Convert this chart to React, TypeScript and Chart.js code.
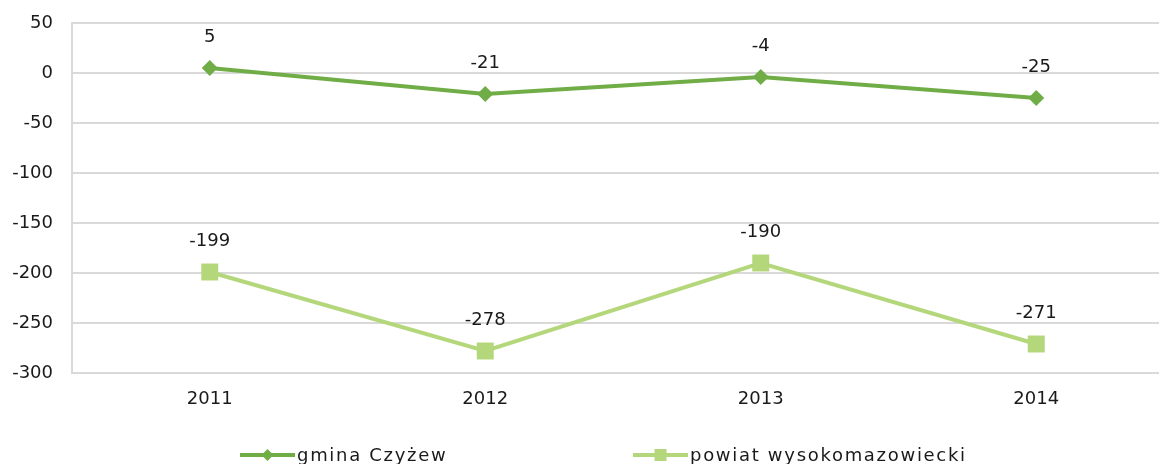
import React, { useEffect, useRef } from "react";
import { Chart, registerables } from "chart.js";

Chart.register(...registerables);

const categories = ["2011", "2012", "2013", "2014"];
const seriesNames = ["gmina Czyżew", "powiat wysokomazowiecki"];
const gminaValues = [5, -21, -4, -25];
const powiatValues = [-199, -278, -190, -271];
const yTicks = [50, 0, -50, -100, -150, -200, -250, -300];

const DARK = "#70AD47";
const LIGHT = "#B5D77B";
const FONT = "'DejaVu Sans', sans-serif";
const FONT_SIZE = 18;
const TEXT = "#1a1a1a";

const CANVAS_W = 1200;
const CANVAS_H = 480;

const labelsPlugin = {
  id: "dataLabels",
  afterDatasetsDraw(chart: any) {
    const ctx = chart.ctx;
    ctx.save();
    ctx.font = `${FONT_SIZE}px ${FONT}`;
    ctx.fillStyle = TEXT;
    ctx.textAlign = "center";
    ctx.textBaseline = "middle";
    chart.data.datasets.forEach((ds: any, i: number) => {
      const meta = chart.getDatasetMeta(i);
      meta.data.forEach((pt: any, j: number) => {
        ctx.fillText(String(ds.data[j]), pt.x, pt.y - 31);
      });
    });
    ctx.restore();
  },
};

const legendPlugin = {
  id: "customLegend",
  afterDraw(chart: any) {
    const ctx = chart.ctx;
    const y = 455;
    const items = [
      { x0: 240, x1: 295, color: DARK, style: "diamond", text: seriesNames[0] },
      { x0: 633, x1: 688, color: LIGHT, style: "square", text: seriesNames[1] },
    ];
    ctx.save();
    items.forEach((it) => {
      ctx.strokeStyle = it.color;
      ctx.lineWidth = 4;
      ctx.beginPath();
      ctx.moveTo(it.x0, y);
      ctx.lineTo(it.x1, y);
      ctx.stroke();
      const cx = (it.x0 + it.x1) / 2;
      ctx.fillStyle = it.color;
      ctx.beginPath();
      if (it.style === "diamond") {
        const r = 6;
        ctx.moveTo(cx, y - r);
        ctx.lineTo(cx + r, y);
        ctx.lineTo(cx, y + r);
        ctx.lineTo(cx - r, y);
        ctx.closePath();
      } else {
        ctx.rect(cx - 6, y - 6, 12, 12);
      }
      ctx.fill();
      ctx.font = `${FONT_SIZE}px ${FONT}`;
      try {
        (ctx as any).letterSpacing = "1.7px";
      } catch (e) {}
      ctx.fillStyle = TEXT;
      ctx.textAlign = "left";
      ctx.textBaseline = "middle";
      ctx.fillText(it.text, it.x1 + 2, y + 1);
      try {
        (ctx as any).letterSpacing = "0px";
      } catch (e) {}
    });
    ctx.restore();
  },
};

export default function App() {
  const ref = useRef<HTMLCanvasElement | null>(null);

  useEffect(() => {
    if (!ref.current) return;
    const chart = new Chart(ref.current, {
      type: "line",
      data: {
        labels: categories,
        datasets: [
          {
            label: seriesNames[0],
            data: gminaValues,
            borderColor: DARK,
            backgroundColor: DARK,
            borderWidth: 4,
            pointStyle: "rectRot",
            pointRadius: 8,
            pointBorderWidth: 0,
            pointBackgroundColor: DARK,
            tension: 0,
          },
          {
            label: seriesNames[1],
            data: powiatValues,
            borderColor: LIGHT,
            backgroundColor: LIGHT,
            borderWidth: 4,
            pointStyle: "rect",
            pointRadius: 12,
            pointBorderWidth: 0,
            pointBackgroundColor: LIGHT,
            tension: 0,
          },
        ],
      },
      options: {
        responsive: false,
        animation: false,
        devicePixelRatio: 1,
        layout: { autoPadding: false, padding: { left: 0, top: 23, right: 26, bottom: 0 } },
        plugins: {
          legend: { display: false },
          tooltip: { enabled: false },
        },
        scales: {
          x: {
            offset: true,
            grid: { display: false, drawTicks: false },
            border: { display: false },
            ticks: {
              color: TEXT,
              font: { family: FONT, size: FONT_SIZE },
              padding: 16,
              maxRotation: 0,
            },
            afterFit(scale: any) {
              scale.height = CANVAS_H - 373;
              scale.paddingLeft = 0;
              scale.paddingRight = 0;
            },
          },
          y: {
            min: -300,
            max: 50,
            afterBuildTicks(scale: any) {
              scale.ticks = yTicks.map((v) => ({ value: v }));
            },
            grid: { color: "#D9D9D9", lineWidth: 2, drawTicks: false },
            border: { display: true, color: "#D9D9D9", width: 2 },
            ticks: {
              color: TEXT,
              font: { family: FONT, size: FONT_SIZE },
              padding: 19,
            },
            afterFit(scale: any) {
              scale.width = 72;
              scale.paddingTop = 0;
              scale.paddingBottom = 0;
            },
          },
        },
      },
      plugins: [labelsPlugin, legendPlugin],
    });
    return () => chart.destroy();
  }, []);

  return (
    <div
      style={{
        position: "fixed",
        left: 0,
        top: 0,
        width: 1159,
        height: 464,
        overflow: "hidden",
        background: "#fff",
      }}
    >
      <canvas
        ref={ref}
        width={CANVAS_W}
        height={CANVAS_H}
        style={{ position: "absolute", left: 0, top: 0, width: CANVAS_W, height: CANVAS_H }}
      />
    </div>
  );
}
